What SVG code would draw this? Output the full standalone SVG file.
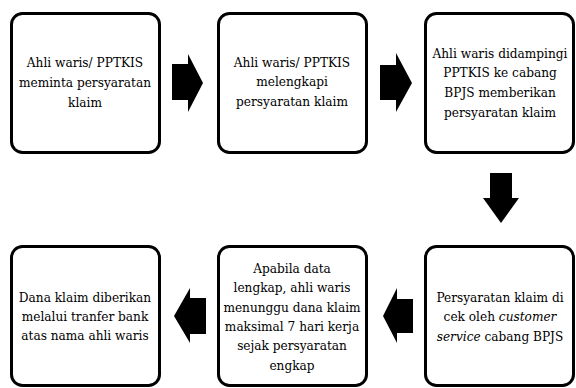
<svg xmlns="http://www.w3.org/2000/svg" width="576" height="388" viewBox="0 0 576 388">
<style>
.box{fill:#fff;stroke:#000;stroke-width:3}
text{font-family:"DejaVu Serif Condensed","DejaVu Serif","Liberation Serif",serif;font-stretch:condensed;font-size:13.5px;fill:#000;text-anchor:middle}
.arr{fill:#000}
</style>
<rect width="576" height="388" fill="#fff"/>
<g id="node1">
<rect class="box" x="11.5" y="13.5" width="148" height="139" rx="11"/>
<text x="85" y="67">Ahli waris/ PPTKIS</text>
<text x="85" y="87">meminta persyaratan</text>
<text x="85" y="107">klaim</text>
</g>
<g id="node2">
<rect class="box" x="218.5" y="13.5" width="148" height="139" rx="11"/>
<text x="292" y="67">Ahli waris/ PPTKIS</text>
<text x="292" y="86">melengkapi</text>
<text x="292" y="106">persyaratan klaim</text>
</g>
<g id="node3">
<rect class="box" x="425.5" y="13.5" width="148" height="139" rx="11"/>
<text x="500" y="58">Ahli waris didampingi</text>
<text x="500" y="77">PPTKIS ke cabang</text>
<text x="500" y="97">BPJS memberikan</text>
<text x="500" y="117">persyaratan klaim</text>
</g>
<g id="node4">
<rect class="box" x="425.5" y="246.5" width="148" height="139" rx="11"/>
<text x="500" y="302">Persyaratan klaim di</text>
<text x="500" y="321">cek oleh <tspan font-style="italic">customer</tspan></text>
<text x="500" y="341"><tspan font-style="italic">service</tspan> cabang BPJS</text>
</g>
<g id="node5">
<rect class="box" x="218.5" y="246.5" width="148" height="139" rx="11"/>
<text x="292" y="273">Apabila data</text>
<text x="292" y="292">lengkap, ahli waris</text>
<text x="292" y="312">menunggu dana klaim</text>
<text x="292" y="331">maksimal 7 hari kerja</text>
<text x="292" y="350">sejak persyaratan</text>
<text x="292" y="370">engkap</text>
</g>
<g id="node6">
<rect class="box" x="11.5" y="246.5" width="148" height="139" rx="11"/>
<text x="85" y="302">Dana klaim diberikan</text>
<text x="85" y="321">melalui tranfer bank</text>
<text x="85" y="340">atas nama ahli waris</text>
</g>
<g id="connectors">
<polygon class="arr" points="172,64 188,64 188,54 203,83 188,112 188,100 172,100"/>
<polygon class="arr" points="380,65 396,65 396,53 412,83 396,112 396,100 380,100"/>
<polygon class="arr" points="490,173 512,173 512,198 519,198 501,223 483,198 490,198"/>
<polygon class="arr" points="413,299 397,299 397,288 383,316 397,343 397,333 413,333"/>
<polygon class="arr" points="206,298 190,298 190,288 174,316 190,343 190,334 206,334"/>
</g>
</svg>
